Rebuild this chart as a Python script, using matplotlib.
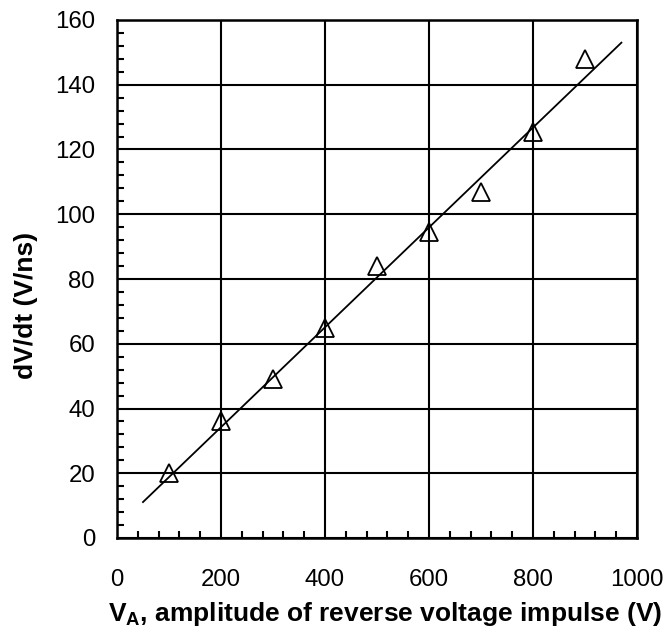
import matplotlib
matplotlib.use("Agg")
import matplotlib.pyplot as plt
from matplotlib.ticker import MultipleLocator

plt.rcParams['font.family'] = ['Liberation Sans', 'DejaVu Sans']
plt.rcParams['mathtext.fontset'] = 'custom'
plt.rcParams['mathtext.rm'] = 'Liberation Sans'
plt.rcParams['mathtext.bf'] = 'Liberation Sans:bold'

# data
voltage = [100, 200, 300, 400, 500, 600, 700, 800, 900]
dvdt = [20, 36, 49, 65, 84, 94.5, 107, 125.5, 148]
fit_x = [50, 970]
fit_y = [11.1, 153.0]
x_ticks = [0, 200, 400, 600, 800, 1000]
y_ticks = [0, 20, 40, 60, 80, 100, 120, 140, 160]

fig = plt.figure(figsize=(6.68, 6.34), dpi=100)
ax = fig.add_axes([117/668, 96/634, 520/668, 518/634])

ax.plot(fit_x, fit_y, color='black', lw=1.3, zorder=3)
ax.plot(voltage, dvdt, linestyle='none', marker='^', ms=13, mfc='none',
        mec='black', mew=1.3, zorder=4)

ax.set_xlim(0, 1000)
ax.set_ylim(0, 160)
ax.set_xticks(x_ticks)
ax.set_yticks(y_ticks)
ax.xaxis.set_minor_locator(MultipleLocator(40))
ax.yaxis.set_minor_locator(MultipleLocator(4))
ax.grid(True, which='major', color='black', lw=1.5)
ax.set_axisbelow(True)
ax.tick_params(which='major', length=0, labelsize=17.3)
ax.tick_params(axis='x', which='major', pad=22)
ax.tick_params(axis='y', which='major', pad=15.8)
ax.tick_params(which='minor', direction='in', length=5, width=1.5, color='black')
ax.tick_params(which='minor', top=False, right=False)
for s in ax.spines.values():
    s.set_linewidth(1.8)
    s.set_color('black')

ax.set_xlabel(r'$\mathbf{V_A}$, amplitude of reverse voltage impulse (V)',
              fontsize=19, fontweight='bold')
ax.xaxis.set_label_coords(0.515, -0.1195)
ax.set_ylabel('dV/dt (V/ns)', fontsize=19, fontweight='bold')
ax.yaxis.set_label_coords(-0.152, 0.448)

fig.savefig('out.png', dpi=100)
